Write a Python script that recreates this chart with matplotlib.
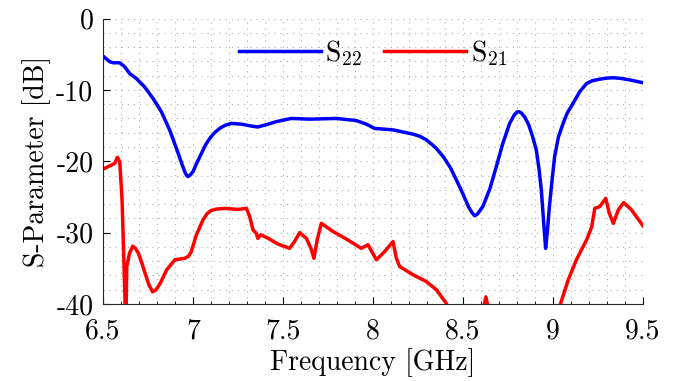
import numpy as np
import matplotlib
matplotlib.use("Agg")
import matplotlib.pyplot as plt
from matplotlib.ticker import MultipleLocator

# S22 (blue)
f22 = [6.5, 6.537, 6.556, 6.593, 6.62, 6.648, 6.685, 6.73, 6.778, 6.824, 6.87,
       6.918, 6.94, 6.954, 6.964, 6.972, 6.982, 7.0, 7.02, 7.047, 7.07, 7.093, 7.12,
       7.148, 7.18, 7.213, 7.269, 7.32, 7.36, 7.41, 7.463,
       7.546, 7.648, 7.796, 7.907, 7.963, 8.009, 8.111, 8.222, 8.26, 8.296, 8.33, 8.352,
       8.39, 8.43, 8.463, 8.5, 8.53, 8.55, 8.565, 8.58, 8.61, 8.65, 8.685, 8.72, 8.759,
       8.785, 8.8, 8.811, 8.825, 8.845, 8.865, 8.885, 8.907, 8.922, 8.935,
       8.948, 8.959, 8.968, 8.98, 8.995, 9.009, 9.03, 9.056, 9.08, 9.111, 9.15,
       9.187, 9.22, 9.26, 9.3, 9.335, 9.38, 9.426, 9.5]
s22 = [-5.25, -6.05, -6.2, -6.2, -6.75, -7.7, -8.4, -9.55, -11.2, -13.05, -15.6,
       -18.9, -20.5, -21.45, -21.95, -22.15, -22.0, -21.45, -20.3, -18.9, -17.7, -16.8, -16.0,
       -15.4, -14.95, -14.7, -14.8, -15.05, -15.2, -14.85, -14.45,
       -14.0, -14.1, -14.0, -14.3, -14.8, -15.4, -15.6, -16.2, -16.5, -17.0, -17.7, -18.2,
       -19.35, -20.9, -22.6, -24.6, -26.35, -27.2, -27.65, -27.4, -26.35, -23.8, -20.75, -17.6, -14.7,
       -13.5, -13.1, -13.05, -13.25, -13.9, -14.9, -16.4, -18.4, -21.0, -24.0,
       -28.5, -32.2, -30.0, -26.35, -22.6, -19.35, -16.6, -14.7, -13.2, -11.9, -10.2,
       -9.1, -8.7, -8.5, -8.35, -8.3, -8.4, -8.6, -9.0]

# S21 (red), values under -40 dB are only guessed (clipped by the axis)
f21 = [6.5, 6.537, 6.565, 6.58, 6.593, 6.606, 6.617, 6.624, 6.628, 6.632, 6.647,
       6.665, 6.68, 6.697, 6.715, 6.734, 6.755, 6.776, 6.795, 6.818, 6.854, 6.9, 6.954, 6.975,
       6.99, 7.019, 7.056, 7.08,
       7.1, 7.13, 7.176, 7.25, 7.297, 7.315, 7.333, 7.352, 7.36, 7.376, 7.418, 7.472,
       7.537, 7.56, 7.593, 7.63, 7.655, 7.672, 7.69, 7.713, 7.778, 7.852, 7.935, 7.972,
       8.019, 8.065, 8.111, 8.13, 8.148, 8.222, 8.296, 8.352, 8.407, 8.45, 8.53, 8.6,
       8.615, 8.627, 8.64, 8.7, 8.85, 8.98, 9.04, 9.085, 9.13, 9.187, 9.215, 9.232,
       9.26, 9.293, 9.313, 9.335, 9.363, 9.393, 9.436, 9.5]
s21 = [-21.1, -20.65, -20.3, -19.45, -20.05, -25.4, -34.8, -41.0, -42.0, -34.8, -32.9,
       -31.9, -32.2, -32.9, -34.2, -35.7, -37.3, -38.3, -38.0, -37.1, -35.2, -33.8, -33.6, -33.3,
       -32.7, -30.3, -28.2, -27.3,
       -26.9, -26.7, -26.6, -26.75, -26.6, -27.75, -29.6, -30.1, -30.8, -30.3, -30.8, -31.6,
       -32.2, -31.4, -30.0, -30.8, -32.2, -33.6, -31.0, -28.7, -29.85, -30.9, -32.2, -31.7,
       -33.8, -32.65, -31.25, -33.6, -34.75, -35.9, -36.85, -38.0, -39.9, -42.0, -44.0, -41.5,
       -40.5, -39.0, -40.5, -45.0, -48.0, -44.0, -40.1, -36.6, -33.8, -31.0, -29.2, -26.6,
       -26.35, -25.2, -27.3, -28.7, -26.8, -25.8, -26.8, -29.05]

plt.rcParams['font.family'] = 'serif'
plt.rcParams['font.serif'] = ['cmr10']
plt.rcParams['mathtext.fontset'] = 'cm'
plt.rcParams['axes.unicode_minus'] = False
plt.rcParams['font.size'] = 20

fig = plt.figure(figsize=(6.88, 3.81), dpi=100)
ax = fig.add_axes([0.1497, 0.2021, 0.7849, 0.7493])

ax.plot(f22, s22, color='#0000ff', linewidth=2.5, label=r'$\mathrm{S}_{22}$',
        solid_joinstyle='round')
ax.plot(f21, s21, color='#ff0000', linewidth=2.5, label=r'$\mathrm{S}_{21}$',
        solid_joinstyle='round')

ax.set_xlim(6.5, 9.5)
ax.set_ylim(-40, 0)
ax.xaxis.set_minor_locator(MultipleLocator(0.1))
ax.yaxis.set_minor_locator(MultipleLocator(2))
ax.set_xticks([6.5, 7, 7.5, 8, 8.5, 9, 9.5])
ax.set_xticklabels(['6.5', '7', '7.5', '8', '8.5', '9', '9.5'])
ax.set_yticks([-40, -30, -20, -10, 0])
ax.set_yticklabels(['-40', '-30', '-20', '-10', '0'])

ax.grid(True, which='both', linestyle=(0, (1, 4.5)), color='#b0b0b0', linewidth=0.8)
ax.tick_params(which='both', direction='in', top=False, right=False)
ax.tick_params(axis='x', which='major', length=5, pad=10)
ax.tick_params(axis='x', which='minor', length=2.5)
ax.tick_params(axis='y', which='major', length=5, pad=7)
ax.tick_params(axis='y', which='minor', length=0)
for s in ['top', 'right']:
    ax.spines[s].set_visible(False)
for s in ['left', 'bottom']:
    ax.spines[s].set_color('#262626')
    ax.spines[s].set_linewidth(0.8)

ax.set_xlabel('Frequency [GHz]', labelpad=3)
ax.set_ylabel('S-Parameter [dB]')
ax.legend(loc='center', bbox_to_anchor=(0.5, 0.88), ncol=2, frameon=False,
          handlelength=2.95, handletextpad=0.15, columnspacing=0.8,
          borderaxespad=0, borderpad=0)

fig.savefig('out.png', dpi=100)
